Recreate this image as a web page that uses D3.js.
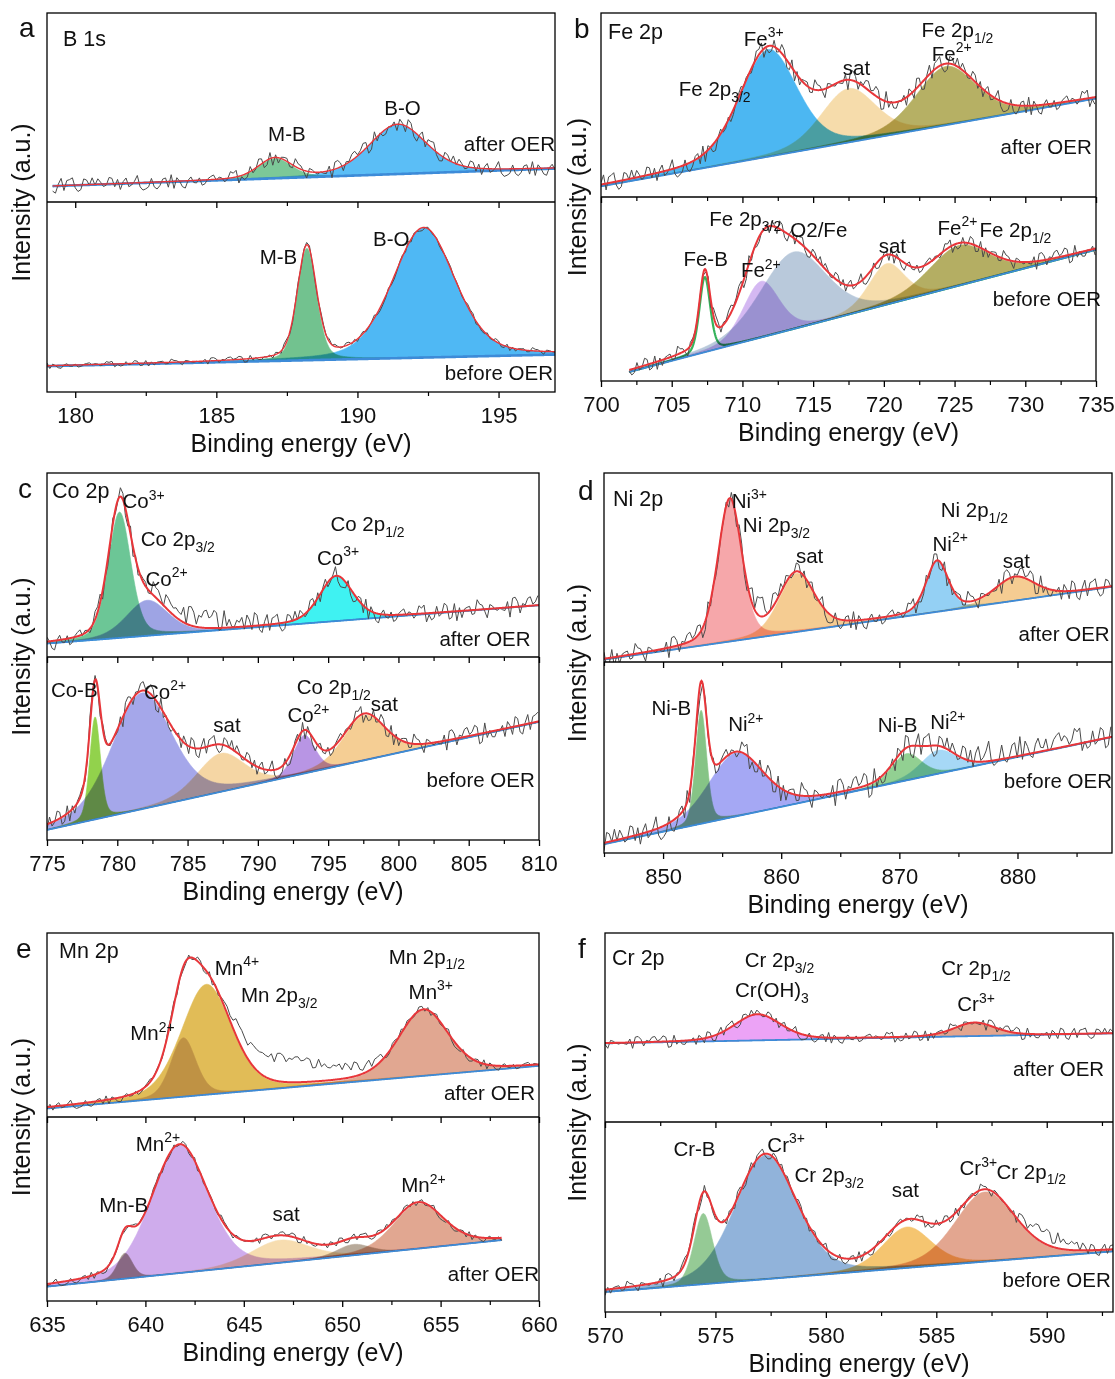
<!DOCTYPE html>
<html>
<head>
<meta charset="utf-8">
<script src="https://cdn.jsdelivr.net/npm/d3@7"></script>
<style>
  html, body { margin: 0; padding: 0; background: #fff; }
  svg text { font-family: "Liberation Sans", Arial, Helvetica, sans-serif; fill: #111; }
</style>
</head>
<body>
<svg id="fig" width="1115" height="1379"></svg>
<script>
// ---------------------------------------------------------------------------
// Spectral data. Intensities are in arbitrary units (0–100 per strip).
// Peak rows: [name, centre (eV), height above background, FWHM (eV)]
// Range rows: [first eV, last eV, energy step]
// ---------------------------------------------------------------------------

// Counting-noise residuals of the recorded spectra (normalised).
const NOISE = [0.42,-0.31,0.87,-0.66,0.12,0.95,-0.88,0.27,-0.15,0.63,-0.92,0.38,0.71,-0.47,-0.05,0.81,
  -0.73,0.19,0.56,-0.99,0.34,-0.22,0.68,-0.58,0.91,-0.11,-0.84,0.47,0.03,-0.39,0.77,-0.63,
  0.25,0.98,-0.71,-0.18,0.52,-0.94,0.61,0.09,-0.52,0.85,-0.28,-0.76,0.33,0.72,-0.41,0.14,
  -0.89,0.58,0.22,-0.67,0.93,-0.08,-0.55,0.44,-0.97,0.66,0.17,-0.34,0.79,-0.61,-0.02,0.88,
  -0.45,0.31,-0.82,0.54,0.07,-0.72,0.96,-0.25,0.39,-0.59,0.83,-0.13,-0.91,0.49,0.21,-0.43,
  0.74,-0.86,0.36,0.05,-0.64,0.92,-0.36,0.59,-0.17,-0.79,0.46,0.28,-0.53,0.99,-0.06,-0.69,
  0.64,-0.26,0.11,-0.95,0.53,0.84,-0.49,0.18,-0.33,0.76,-0.81,0.41,-0.09,0.62,-0.74,0.29,
  0.89,-0.57,-0.2,0.69,-0.38,0.97,-0.65,0.15,0.48,-0.87,0.24,-0.12,0.73,-0.48,0.35,-0.6];

const PANEL_IDS = ["a", "b", "c", "d", "e", "f"];
const CORE_LEVELS = ["B 1s", "Fe 2p", "Co 2p", "Ni 2p", "Mn 2p", "Cr 2p"];
const ENERGY_DOMAINS = [[179, 197], [700, 735], [775, 810], [845, 888], [635, 660], [570, 593]];
const TICK_LABELS = [
  [180, 185, 190, 195],
  [700, 705, 710, 715, 720, 725, 730, 735],
  [775, 780, 785, 790, 795, 800, 805, 810],
  [850, 860, 870, 880],
  [635, 640, 645, 650, 655, 660],
  [570, 575, 580, 585, 590]
];

// (a) B 1s
const B_AFTER_RANGE = [179.2, 197, 0.1];
const B_AFTER_BG = [[179, 8.3], [197, 17.7]];
const B_AFTER_PEAKS = [["M-B", 187.08, 10.5, 1.4], ["B-O", 191.43, 26.3, 2.4]];
const B_AFTER_NOISE = 4.2;
const B_BEFORE_RANGE = [179, 197, 0.1];
const B_BEFORE_BG = [[179, 13.6], [197, 19.7]];
const B_BEFORE_PEAKS = [["M-B", 188.21, 58.9, 0.8], ["B-O", 192.35, 68.3, 2.6]];
const B_BEFORE_NOISE = 1.7;

// (b) Fe 2p
const FE_AFTER_RANGE = [700, 735, 0.18];
const FE_AFTER_BG = [[700, 5.8], [735, 53.5]];
const FE_AFTER_PEAKS = [["Fe3+", 711.83, 58.2, 4.8], ["sat", 717.49, 29.3, 4.6], ["Fe2+", 724.4, 31.9, 5.0]];
const FE_AFTER_NOISE = 5.5;
const FE_BEFORE_RANGE = [702, 735, 0.18];
const FE_BEFORE_BG = [[702, 4.9], [735, 71.4]];
const FE_BEFORE_PEAKS = [["Fe-B", 707.34, 40.8, 0.9], ["Fe2+", 711.32, 30.5, 3.0], ["O2/Fe", 713.6, 41.8, 5.5],
  ["sat", 720.2, 22.2, 3.0], ["Fe2+ 2p1/2", 725.3, 21.8, 5.0]];
const FE_BEFORE_NOISE = 4.5;

// (c) Co 2p
const CO_AFTER_RANGE = [775, 810, 0.18];
const CO_AFTER_BG = [[775, 7.3], [810, 28.1]];
const CO_AFTER_PEAKS = [["Co3+", 780.16, 68.4, 1.9], ["Co2+", 782.13, 19.3, 3.5], ["Co3+ 2p1/2", 795.58, 24.4, 2.8]];
const CO_AFTER_EXTRA = [[782, 0], [783.5, 5], [786, 5], [789, 3], [791, 0]];
const CO_AFTER_NOISE = 5.5;
const CO_BEFORE_RANGE = [775, 810, 0.18];
const CO_BEFORE_BG = [[775, 5.5], [810, 64.5]];
const CO_BEFORE_PEAKS = [["Co-B", 778.42, 56, 0.9], ["Co2+", 781.74, 63.5, 5.0], ["sat", 787.35, 21, 4.0],
  ["Co2+ 2p1/2", 793.3, 20.9, 1.8], ["sat 2p1/2", 797.57, 24.6, 3.5]];
const CO_BEFORE_NOISE = 5.5;

// (d) Ni 2p
const NI_AFTER_RANGE = [845, 888, 0.22];
const NI_AFTER_BG = [[845, 1.3], [888, 39.8]];
const NI_AFTER_PEAKS = [["Ni3+", 855.65, 75, 2.4], ["sat", 861.3, 31, 3.5], ["Ni2+", 873.2, 26.6, 2.2], ["sat 2p1/2", 879.8, 12.4, 4.0]];
const NI_AFTER_EXTRA = [[857, 0], [858, 6], [859, 4], [860, 0]];
const NI_AFTER_NOISE = 5.5;
const NI_BEFORE_RANGE = [845, 888, 0.22];
const NI_BEFORE_BG = [[845, 4.6], [888, 60.7]];
const NI_BEFORE_PEAKS = [["Ni-B", 853.22, 59.4, 1.1], ["Ni2+", 856.15, 33.2, 5.5], ["Ni-B 2p1/2", 870.6, 14, 3.0], ["Ni2+ 2p1/2", 873.3, 12.3, 3.5]];
const NI_BEFORE_EXTRA = [[875, 0], [877, 4], [884, 4], [887, 0]];
const NI_BEFORE_NOISE = 7;

// (e) Mn 2p
const MN_AFTER_RANGE = [635, 660, 0.15];
const MN_AFTER_BG = [[635, 4.6], [660, 27.8]];
const MN_AFTER_PEAKS = [["Mn2+", 641.93, 32, 1.5], ["Mn4+", 643.1, 60, 3.0], ["Mn3+", 654.13, 35.8, 3.0]];
const MN_AFTER_EXTRA = [[643.8, 0], [644.8, 8], [645.8, 12], [647, 13], [648.5, 10], [650, 7], [651.5, 3], [652.5, 0]];
const MN_AFTER_NOISE = 2.6;
const MN_BEFORE_RANGE = [635, 658.1, 0.15];
const MN_BEFORE_BG = [[635, 7.8], [658.1, 33.1]];
const MN_BEFORE_PEAKS = [["Mn-B", 638.96, 13.8, 0.9], ["Mn2+", 641.73, 69.4, 3.4], ["sat", 646.84, 12.3, 3.5],
  ["sat 2", 650.57, 5.9, 2.0], ["Mn2+ 2p1/2", 653.87, 24.5, 3.0]];
const MN_BEFORE_NOISE = 2.2;

// (f) Cr 2p
const CR_AFTER_RANGE = [570, 593, 0.125];
const CR_AFTER_BG = [[570, 41.6], [593, 46.9]];
const CR_AFTER_PEAKS = [["Cr(OH)3", 576.9, 13.8, 2.5], ["Cr3+ 2p1/2", 586.73, 7.1, 2.2]];
const CR_AFTER_NOISE = 3.2;
const CR_BEFORE_RANGE = [570, 593, 0.125];
const CR_BEFORE_BG = [[570, 10.5], [593, 31.9]];
const CR_BEFORE_PEAKS = [["Cr-B", 574.45, 37.2, 1.0], ["Cr3+", 577.27, 65.2, 3.3], ["sat", 583.67, 21.5, 2.6], ["Cr3+ 2p1/2", 587.2, 36.7, 3.2]];
const CR_BEFORE_EXTRA = [[588.5, 0], [589.5, 5], [591, 5], [592, 0]];
const CR_BEFORE_NOISE = 3.2;

// Peak labels: [text, energy (eV), intensity, anchor]; ^{..} superscript, _{..} subscript
const B_AFTER_LABELS = [["M-B", 187.5, 36.3, "middle"], ["B-O", 191.6, 49.6, "middle"], ["after OER", 197, 31, "end"]];
const B_BEFORE_LABELS = [["M-B", 187.2, 71, "middle"], ["B-O", 191.2, 80.4, "middle"], ["before OER", 196.93, 10.3, "end"]];
const FE_AFTER_LABELS = [["Fe^{3+}", 711.5, 86, "middle"], ["Fe 2p_{3/2}", 705.5, 58.9, "start"], ["sat", 718.06, 70.1, "middle"],
  ["Fe 2p_{1/2}", 725.2, 90.6, "middle"], ["Fe^{2+}", 724.8, 77.9, "middle"], ["after OER", 734.7, 27.2, "end"]];
const FE_BEFORE_LABELS = [["Fe 2p_{3/2}", 710.2, 88.3, "middle"], ["O2/Fe", 715.4, 81.9, "middle"], ["Fe-B", 707.4, 66.5, "middle"],
  ["Fe^{2+}", 711.3, 60.2, "middle"], ["sat", 720.6, 73.2, "middle"], ["Fe^{2+}", 725.2, 83.4, "middle"],
  ["Fe 2p_{1/2}", 729.3, 81.9, "middle"], ["before OER", 735.36, 44.8, "end"]];
const CO_AFTER_LABELS = [["Co^{3+}", 781.87, 84.8, "middle"], ["Co 2p_{3/2}", 784.3, 64.3, "middle"], ["Co^{2+}", 783.5, 42.6, "middle"],
  ["Co 2p_{1/2}", 797.8, 72.5, "middle"], ["Co^{3+}", 795.7, 54, "middle"], ["after OER", 809.4, 10, "end"]];
const CO_BEFORE_LABELS = [["Co-B", 776.94, 81.8, "middle"], ["Co^{2+}", 783.4, 81, "middle"], ["sat", 787.8, 62.7, "middle"],
  ["Co^{2+}", 793.6, 68.2, "middle"], ["Co 2p_{1/2}", 795.4, 83.6, "middle"], ["sat", 799.0, 74.5, "middle"],
  ["before OER", 809.7, 33.1, "end"]];
const NI_AFTER_LABELS = [["Ni^{3+}", 857.3, 85.5, "middle"], ["Ni 2p_{3/2}", 859.6, 72.6, "middle"], ["sat", 862.4, 56.1, "middle"],
  ["Ni 2p_{1/2}", 876.35, 80.5, "middle"], ["Ni^{2+}", 874.3, 62.5, "middle"], ["sat", 879.9, 53.5, "middle"],
  ["after OER", 887.8, 15, "end"]];
const NI_BEFORE_LABELS = [["Ni-B", 850.7, 76.1, "middle"], ["Ni^{2+}", 857.0, 67.4, "middle"], ["Ni-B", 869.85, 66.9, "middle"],
  ["Ni^{2+}", 874.1, 68.6, "middle"], ["before OER", 888, 37.7, "end"]];
const MN_AFTER_LABELS = [["Mn^{4+}", 644.65, 81.3, "middle"], ["Mn 2p_{3/2}", 646.8, 66.4, "middle"], ["Mn^{2+}", 640.36, 45.5, "middle"],
  ["Mn 2p_{1/2}", 654.3, 87.2, "middle"], ["Mn^{3+}", 654.5, 68.2, "middle"], ["after OER", 659.8, 13.4, "end"]];
const MN_BEFORE_LABELS = [["Mn^{2+}", 640.64, 85.6, "middle"], ["Mn-B", 638.9, 52.1, "middle"], ["sat", 647.15, 47.6, "middle"],
  ["Mn^{2+}", 654.13, 62.9, "middle"], ["after OER", 660, 15, "end"]];
const CR_AFTER_LABELS = [["Cr 2p_{3/2}", 577.9, 85.8, "middle"], ["Cr(OH)_{3}", 577.56, 69.9, "middle"], ["Cr 2p_{1/2}", 586.8, 81.4, "middle"],
  ["Cr^{3+}", 586.8, 62.3, "middle"], ["after OER", 592.6, 28.3, "end"]];
const CR_BEFORE_LABELS = [["Cr-B", 574.05, 86, "middle"], ["Cr^{3+}", 578.2, 88.1, "middle"], ["Cr 2p_{3/2}", 580.15, 72, "middle"],
  ["sat", 583.6, 64.1, "middle"], ["Cr^{3+}", 586.9, 75.8, "middle"], ["Cr 2p_{1/2}", 589.3, 74, "middle"],
  ["before OER", 592.9, 17, "end"]];

// ---------------------------------------------------------------------------
// Styling
// ---------------------------------------------------------------------------
const FONT_TICK = 22, FONT_TITLE = 25, FONT_NOTE = 20.5, FONT_CORE = 21.5, FONT_LETTER = 28;
const COL_RAW = "#4a4a4a", COL_FIT = "#e8363a", COL_BG = "#3d8bd8";

const FRAMES = [
  { x0: 47,  x1: 555,  top: 13,  mid: 202,  bottom: 392, letter: [19, 37],   core: [63, 46],   ytitle: 30 },
  { x0: 601, x1: 1096, top: 13,  mid: 197,  bottom: 381, letter: [574, 38],  core: [608, 39],  ytitle: 586 },
  { x0: 47,  x1: 539,  top: 473, mid: 657,  bottom: 840, letter: [18, 498],  core: [52, 498],  ytitle: 30 },
  { x0: 604, x1: 1112, top: 473, mid: 662,  bottom: 853, letter: [578, 500], core: [613, 506], ytitle: 586 },
  { x0: 47,  x1: 539,  top: 933, mid: 1117, bottom: 1301, letter: [16, 958], core: [59, 958],  ytitle: 30 },
  { x0: 605, x1: 1113, top: 933, mid: 1122, bottom: 1312, letter: [578, 958], core: [612, 965], ytitle: 586 }
];

// fill colours per strip, in peak order ("line:" = outline only)
const FILLS = {
  B_AFTER: ["#7cc898", "#5bbef6"], B_BEFORE: ["#72c28f", "#4fb8f4"],
  FE_AFTER: ["#4cb7f2", "#f6dcab", "#b6b064"],
  FE_BEFORE: ["line:#35b35c", "#d4b8f2", "#b9c9db", "#f6ddac", "#b4ae63"],
  CO_AFTER: ["#6cc696", "#9ea4e4", "#3ff2f2"],
  CO_BEFORE: ["#92d24c", "#a5a7ea", "#f5d6a4", "#b895e4", "#f5ce94"],
  NI_AFTER: ["#f6a7aa", "#f5cc92", "#94d0f4", "#f5cc92"],
  NI_BEFORE: ["#86c486", "#a5a8f4", "#92d092", "#a6d8f6"],
  MN_AFTER: ["#d9c6c8", "#e1bc57", "#e1a791"],
  MN_BEFORE: ["#a79a8e", "#cfacec", "#f7ddb0", "#b8aa9a", "#e1a791"],
  CR_AFTER: ["#eca3f6", "#e3a58e"],
  CR_BEFORE: ["#95ca95", "#91b3da", "#f5c570", "#e3a690"]
};

// strips in drawing order: [panel index, row, key, range, background, peaks, noise, extra, labels, noise phase]
const STRIPS = [
  [0, 0, "B_AFTER", B_AFTER_RANGE, B_AFTER_BG, B_AFTER_PEAKS, B_AFTER_NOISE, null, B_AFTER_LABELS, 3],
  [0, 1, "B_BEFORE", B_BEFORE_RANGE, B_BEFORE_BG, B_BEFORE_PEAKS, B_BEFORE_NOISE, null, B_BEFORE_LABELS, 41],
  [1, 0, "FE_AFTER", FE_AFTER_RANGE, FE_AFTER_BG, FE_AFTER_PEAKS, FE_AFTER_NOISE, null, FE_AFTER_LABELS, 17],
  [1, 1, "FE_BEFORE", FE_BEFORE_RANGE, FE_BEFORE_BG, FE_BEFORE_PEAKS, FE_BEFORE_NOISE, null, FE_BEFORE_LABELS, 88],
  [2, 0, "CO_AFTER", CO_AFTER_RANGE, CO_AFTER_BG, CO_AFTER_PEAKS, CO_AFTER_NOISE, CO_AFTER_EXTRA, CO_AFTER_LABELS, 55],
  [2, 1, "CO_BEFORE", CO_BEFORE_RANGE, CO_BEFORE_BG, CO_BEFORE_PEAKS, CO_BEFORE_NOISE, null, CO_BEFORE_LABELS, 102],
  [3, 0, "NI_AFTER", NI_AFTER_RANGE, NI_AFTER_BG, NI_AFTER_PEAKS, NI_AFTER_NOISE, NI_AFTER_EXTRA, NI_AFTER_LABELS, 9],
  [3, 1, "NI_BEFORE", NI_BEFORE_RANGE, NI_BEFORE_BG, NI_BEFORE_PEAKS, NI_BEFORE_NOISE, NI_BEFORE_EXTRA, NI_BEFORE_LABELS, 73],
  [4, 0, "MN_AFTER", MN_AFTER_RANGE, MN_AFTER_BG, MN_AFTER_PEAKS, MN_AFTER_NOISE, MN_AFTER_EXTRA, MN_AFTER_LABELS, 29],
  [4, 1, "MN_BEFORE", MN_BEFORE_RANGE, MN_BEFORE_BG, MN_BEFORE_PEAKS, MN_BEFORE_NOISE, null, MN_BEFORE_LABELS, 64],
  [5, 0, "CR_AFTER", CR_AFTER_RANGE, CR_AFTER_BG, CR_AFTER_PEAKS, CR_AFTER_NOISE, null, CR_AFTER_LABELS, 114],
  [5, 1, "CR_BEFORE", CR_BEFORE_RANGE, CR_BEFORE_BG, CR_BEFORE_PEAKS, CR_BEFORE_NOISE, CR_BEFORE_EXTRA, CR_BEFORE_LABELS, 37]
];

// ---------------------------------------------------------------------------
// Helpers
// ---------------------------------------------------------------------------
// pseudo-Voigt line shape (Gaussian/Lorentzian mix) used for the fitted components
function lineShape(e, peak) {
  const [, c, h, w] = peak;
  const d = (e - c) / w;
  return h * (0.7 * Math.exp(-4 * Math.LN2 * d * d) + 0.3 / (1 + 4 * d * d));
}
function piecewise(points, e) {
  if (!points) return 0;
  if (e <= points[0][0]) return points[0][1];
  for (let i = 1; i < points.length; i++) {
    if (e <= points[i][0]) {
      const [e0, v0] = points[i - 1], [e1, v1] = points[i];
      return v0 + (v1 - v0) * (e - e0) / (e1 - e0);
    }
  }
  return points[points.length - 1][1];
}
function energyGrid(range, div) {
  const [a, b, s] = range;
  const st = s / div;
  const n = Math.round((b - a) / st);
  return d3.range(n + 1).map(i => a + i * st);
}
function richText(textSel, str, fs) {
  const parts = str.split(/(\^\{[^}]*\}|_\{[^}]*\})/).filter(s => s.length);
  let shift = 0;
  parts.forEach(p => {
    let txt = p, size = fs, target = 0;
    if (p.startsWith("^{")) { txt = p.slice(2, -1); size = fs * 0.68; target = -0.42 * fs; }
    else if (p.startsWith("_{")) { txt = p.slice(2, -1); size = fs * 0.68; target = 0.28 * fs; }
    textSel.append("tspan").attr("dy", target - shift).attr("font-size", size).text(txt);
    shift = target;
  });
}

// ---------------------------------------------------------------------------
// Drawing
// ---------------------------------------------------------------------------
const svg = d3.select("#fig");
const defs = svg.append("defs");
const xScales = FRAMES.map((f, i) => d3.scaleLinear().domain(ENERGY_DOMAINS[i]).range([f.x0, f.x1]));

STRIPS.forEach(([pi, row, key, range, bg, peaks, noiseAmp, extra, labels, phase], si) => {
  const f = FRAMES[pi];
  const x = xScales[pi];
  const yTop = row === 0 ? f.top : f.mid;
  const yBot = row === 0 ? f.mid : f.bottom;
  const y = d3.scaleLinear().domain([0, 100]).range([yBot, yTop]);

  const clipId = "clip" + si;
  defs.append("clipPath").attr("id", clipId)
    .append("rect").attr("x", f.x0).attr("y", yTop).attr("width", f.x1 - f.x0).attr("height", yBot - yTop);
  const g = svg.append("g").attr("clip-path", `url(#${clipId})`);

  const bgAt = e => piecewise(bg, e);
  const fine = energyGrid(range, 4);
  const fills = FILLS[key];

  // fitted components
  const comps = g.append("g");
  peaks.forEach((pk, k) => {
    const col = fills[k];
    const pts = fine.map(e => ({ e, b: bgAt(e), v: lineShape(e, pk) }));
    if (col.startsWith("line:")) {
      comps.append("path")
        .attr("d", d3.line().x(d => x(d.e)).y(d => y(d.b + d.v))(pts))
        .attr("fill", "none").attr("stroke", col.slice(5)).attr("stroke-width", 2.2);
    } else {
      comps.append("path")
        .attr("d", d3.area().x(d => x(d.e)).y0(d => y(d.b)).y1(d => y(d.b + d.v))(pts))
        .attr("fill", col).attr("stroke", col).attr("stroke-width", 0.6)
        .style("mix-blend-mode", "multiply");
    }
  });

  // background
  g.append("path")
    .attr("d", d3.line().x(d => x(d)).y(d => y(bgAt(d)))(fine))
    .attr("fill", "none").attr("stroke", COL_BG).attr("stroke-width", pi === 0 ? 2.6 : 1.8);

  // recorded spectrum
  const raw = energyGrid(range, 1).map((e, i) => {
    const env = bgAt(e) + d3.sum(peaks, pk => lineShape(e, pk));
    return [e, env + piecewise(extra, e) + noiseAmp * NOISE[(i * 7 + phase) % NOISE.length]];
  });
  g.append("path")
    .attr("d", d3.line().x(d => x(d[0])).y(d => y(d[1]))(raw))
    .attr("fill", "none").attr("stroke", COL_RAW).attr("stroke-width", 1).attr("stroke-linejoin", "round");

  // fit envelope
  g.append("path")
    .attr("d", d3.line().x(e => x(e)).y(e => y(bgAt(e) + d3.sum(peaks, pk => lineShape(e, pk))))(fine))
    .attr("fill", "none").attr("stroke", COL_FIT).attr("stroke-width", pi === 0 ? 1.4 : 2);

  // labels
  labels.forEach(([txt, e, v, anchor]) => {
    const t = svg.append("text")
      .attr("x", x(e)).attr("y", y(v) + 0.35 * FONT_NOTE)
      .attr("text-anchor", anchor).attr("font-size", FONT_NOTE);
    richText(t, txt, FONT_NOTE);
  });
});

// frames, axes and titles
FRAMES.forEach((f, i) => {
  const x = xScales[i];
  const majors = TICK_LABELS[i];
  const step = majors[1] - majors[0];
  const dom = ENERGY_DOMAINS[i];
  const minors = d3.range(majors[0] - step / 2, dom[1] + 1e-6, step).filter(v => v >= dom[0] - 1e-6);

  svg.append("rect").attr("x", f.x0).attr("y", f.top)
    .attr("width", f.x1 - f.x0).attr("height", f.bottom - f.top)
    .attr("fill", "none").attr("stroke", "#000").attr("stroke-width", 1.3);
  svg.append("line").attr("x1", f.x0).attr("x2", f.x1).attr("y1", f.mid).attr("y2", f.mid)
    .attr("stroke", "#000").attr("stroke-width", 1.3);

  [f.mid, f.bottom].forEach((yy, r) => {
    const ax = svg.append("g").attr("transform", `translate(0,${yy})`)
      .call(d3.axisBottom(x).tickValues(majors).tickSize(6).tickPadding(9)
        .tickFormat(r === 1 ? d3.format("d") : () => ""));
    ax.select(".domain").remove();
    ax.selectAll("line").attr("stroke", "#000").attr("stroke-width", 1.3);
    ax.selectAll("text").attr("font-size", FONT_TICK).attr("fill", "#111")
      .style("font-family", '"Liberation Sans", Arial, sans-serif');
    const mn = svg.append("g").attr("transform", `translate(0,${yy})`)
      .call(d3.axisBottom(x).tickValues(minors).tickSize(4).tickFormat(() => ""));
    mn.select(".domain").remove();
    mn.selectAll("line").attr("stroke", "#000").attr("stroke-width", 1.2);
  });

  svg.append("text").attr("x", (f.x0 + f.x1) / 2).attr("y", f.bottom + 60)
    .attr("text-anchor", "middle").attr("font-size", FONT_TITLE).text("Binding energy (eV)");
  svg.append("text")
    .attr("transform", `translate(${f.ytitle},${(f.top + f.bottom) / 2}) rotate(-90)`)
    .attr("text-anchor", "middle").attr("font-size", FONT_TITLE).text("Intensity (a.u.)");
  svg.append("text").attr("x", f.letter[0]).attr("y", f.letter[1])
    .attr("font-size", FONT_LETTER).text(PANEL_IDS[i]);
  svg.append("text").attr("x", f.core[0]).attr("y", f.core[1])
    .attr("font-size", FONT_CORE).text(CORE_LEVELS[i]);
});
</script>
</body>
</html>
